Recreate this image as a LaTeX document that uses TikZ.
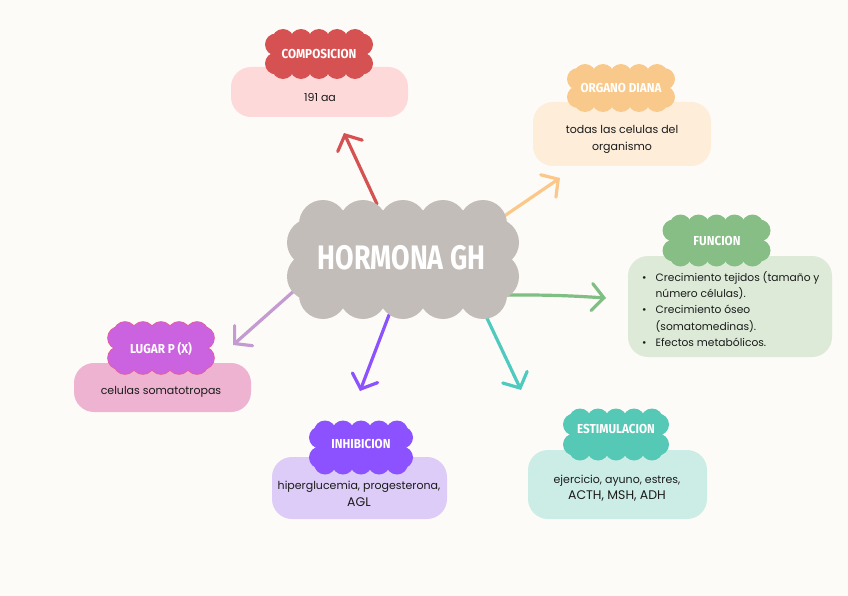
\documentclass[tikz,border=0pt]{standalone}
\usepackage{fontspec}
\setmainfont{Poppins}
\newfontfamily\hfont{Fira Sans}
\usetikzlibrary{arrows.meta}
\definecolor{bg}{HTML}{FDFBF7}
\definecolor{maingray}{HTML}{C3BDB9}
\definecolor{cred}{HTML}{D65151}
\definecolor{bred}{HTML}{FDD9DA}
\definecolor{corange}{HTML}{F9C98B}
\definecolor{borange}{HTML}{FDEDD9}
\definecolor{aorange}{HTML}{FBC88A}
\definecolor{cgreen}{HTML}{86BE86}
\definecolor{bgreen}{HTML}{DDEAD7}
\definecolor{agreen}{HTML}{7FBF84}
\definecolor{cmag}{HTML}{CB62DF}
\definecolor{emag}{HTML}{E2609C}
\definecolor{bmag}{HTML}{EDB3D1}
\definecolor{alilac}{HTML}{C39BD1}
\definecolor{cpurp}{HTML}{8C52FF}
\definecolor{bpurp}{HTML}{DCCCF7}
\definecolor{cteal}{HTML}{55C8B6}
\definecolor{bteal}{HTML}{CCEDE6}
\definecolor{ateal}{HTML}{4ECBBE}
\definecolor{ink}{HTML}{1B1B1B}
% cloud: cx, cy, halfw, halfh, r, ntop, topspacing, sidespacing, style
\newcommand\mycloud[9]{%
  \pgfmathsetmacro\cla{#3-#5}%
  \pgfmathsetmacro\clb{#4-#5}%
  \pgfmathsetmacro\cls{-(#6-1)*#7/2}%
  \path[#9] ({#1-\cla},{#2-\clb}) rectangle ({#1+\cla},{#2+\clb});
  \foreach \i in {1,...,#6}{%
    \path[#9] ({#1+\cls+(\i-1)*#7},{#2-\clb}) circle[radius=#5];
    \path[#9] ({#1+\cls+(\i-1)*#7},{#2+\clb}) circle[radius=#5];
  }
  \foreach \j in {-1,1}{%
    \path[#9] ({#1-\cla},{#2+\j*#8/2}) circle[radius=#5];
    \path[#9] ({#1+\cla},{#2+\j*#8/2}) circle[radius=#5];
  }
}
\tikzset{
  box/.style={rounded corners=20pt, inner sep=0pt, draw=none},
  body/.style={text=ink, font=\fontsize{11}{17}\selectfont, align=center, inner sep=0pt},
  hdr/.style={text=white, font=\hfont\bfseries\fontsize{13}{13}\selectfont, inner sep=0pt},
  arr/.style={line width=3.2pt, line cap=round, line join=round,
    -{Straight Barb[length=12pt,width=27pt,line cap=round]}},
}
\begin{document}
\begin{tikzpicture}[x=1pt,y=-1pt]
\path[fill=bg] (0,0) rectangle (848,596);
\useasboundingbox (0,0) rectangle (848,596);

% arrow coordinates
\coordinate (rS) at (377,204); \coordinate (rT) at (344,133);
\coordinate (oS) at (497,221); \coordinate (oT) at (560,178);
\coordinate (gS) at (507,295); \coordinate (gT) at (606,298);
\coordinate (tS) at (485,314); \coordinate (tT) at (521,390);
\coordinate (pS) at (389,315); \coordinate (pT) at (360,391);
\coordinate (lS) at (295,290); \coordinate (lT) at (233,345);

% arrows
\draw[arr, cred] (rS) -- (rT);
\draw[arr, aorange] (oS) -- (oT);
\draw[arr, agreen] (gS) to[bend left=2] (gT);
\draw[arr, ateal] (tS) -- (tT);
\draw[arr, cpurp] (pS) -- (pT);
\draw[arr, alilac] (lS) -- (lT);

% main cloud
\mycloud{403}{259.5}{116}{59.5}{24}{5}{40}{34}{fill=maingray}
\node[text=white, font=\hfont\bfseries\fontsize{34}{34}\selectfont, inner sep=0pt]
  (main) at (401.5,257.5) {\scalebox{0.79}[1]{HORMONA GH}};

% boxes
\node[box, fill=bred, minimum width=177pt, minimum height=50pt] (compB) at (319.5,92) {};
\node[box, fill=borange, minimum width=178pt, minimum height=64pt] (orgB) at (622,134) {};
\node[box, fill=bgreen, minimum width=204pt, minimum height=101pt] (funB) at (730,306.5) {};
\node[box, fill=bmag, minimum width=177pt, minimum height=49pt] (lugB) at (162.5,387.5) {};
\node[box, fill=bpurp, minimum width=175pt, minimum height=62pt] (inhB) at (359.5,488) {};
\node[box, fill=bteal, minimum width=179pt, minimum height=69pt] (estB) at (617.5,484.5) {};

% header clouds
\mycloud{319}{54}{54}{25}{11}{5}{18}{19}{fill=cred}
\mycloud{621}{88}{54}{24}{11}{5}{18}{18}{fill=corange}
\mycloud{716.5}{240.5}{54}{26}{11}{5}{18}{20}{fill=cgreen}
\mycloud{161}{348}{53}{26}{11}{5}{18}{20}{draw=emag, line width=1.6pt}
\mycloud{161}{348}{53}{26}{11}{5}{18}{20}{fill=cmag}
\mycloud{361}{447.5}{52}{27}{11}{5}{18}{20}{fill=cpurp}
\mycloud{616}{434.5}{53}{26}{11}{5}{18}{20}{fill=cteal}

% header texts
\node[hdr] (compH) at (319,54) {\scalebox{0.9}[1]{COMPOSICION}};
\node[hdr] (orgH) at (621,88) {\scalebox{0.9}[1]{ORGANO DIANA}};
\node[hdr] (funH) at (717,241) {\scalebox{0.9}[1]{FUNCION}};
\node[hdr] (lugH) at (161,349) {\scalebox{0.9}[1]{LUGAR P (X)}};
\node[hdr] (inhH) at (361,444) {\scalebox{0.9}[1]{INHIBICION}};
\node[hdr] (estH) at (616,429) {\scalebox{0.9}[1]{ESTIMULACION}};

% body texts
\node[body] (compT) at (320,97) {191 aa};
\node[body] (orgT) at (622,139.5) {todas las celulas del\\organismo};
\node[body] (lugT) at (161,392) {celulas somatotropas};
\node[body] (inhT) at (359,493.5) {hiperglucemia, progesterona,\\{\fontsize{12.5}{17}\selectfont AGL}};
\node[body, font=\fontsize{11}{16}\selectfont] (estT) at (617,488) {ejercicio, ayuno, estres,\\{\fontsize{12.5}{16}\selectfont ACTH, MSH, ADH}};
\node[body, anchor=west, align=left] (funT) at (642,310.5) {%
  \fontsize{10.7}{16.3}\selectfont
  \begin{tabular}{@{}l@{\hspace{9pt}}l@{}}
  \textbullet & Crecimiento tejidos (tamaño y\\
   & número células).\\
  \textbullet & Crecimiento óseo\\
   & (somatomedinas).\\
  \textbullet & Efectos metabólicos.
  \end{tabular}};
\end{tikzpicture}
\end{document}
